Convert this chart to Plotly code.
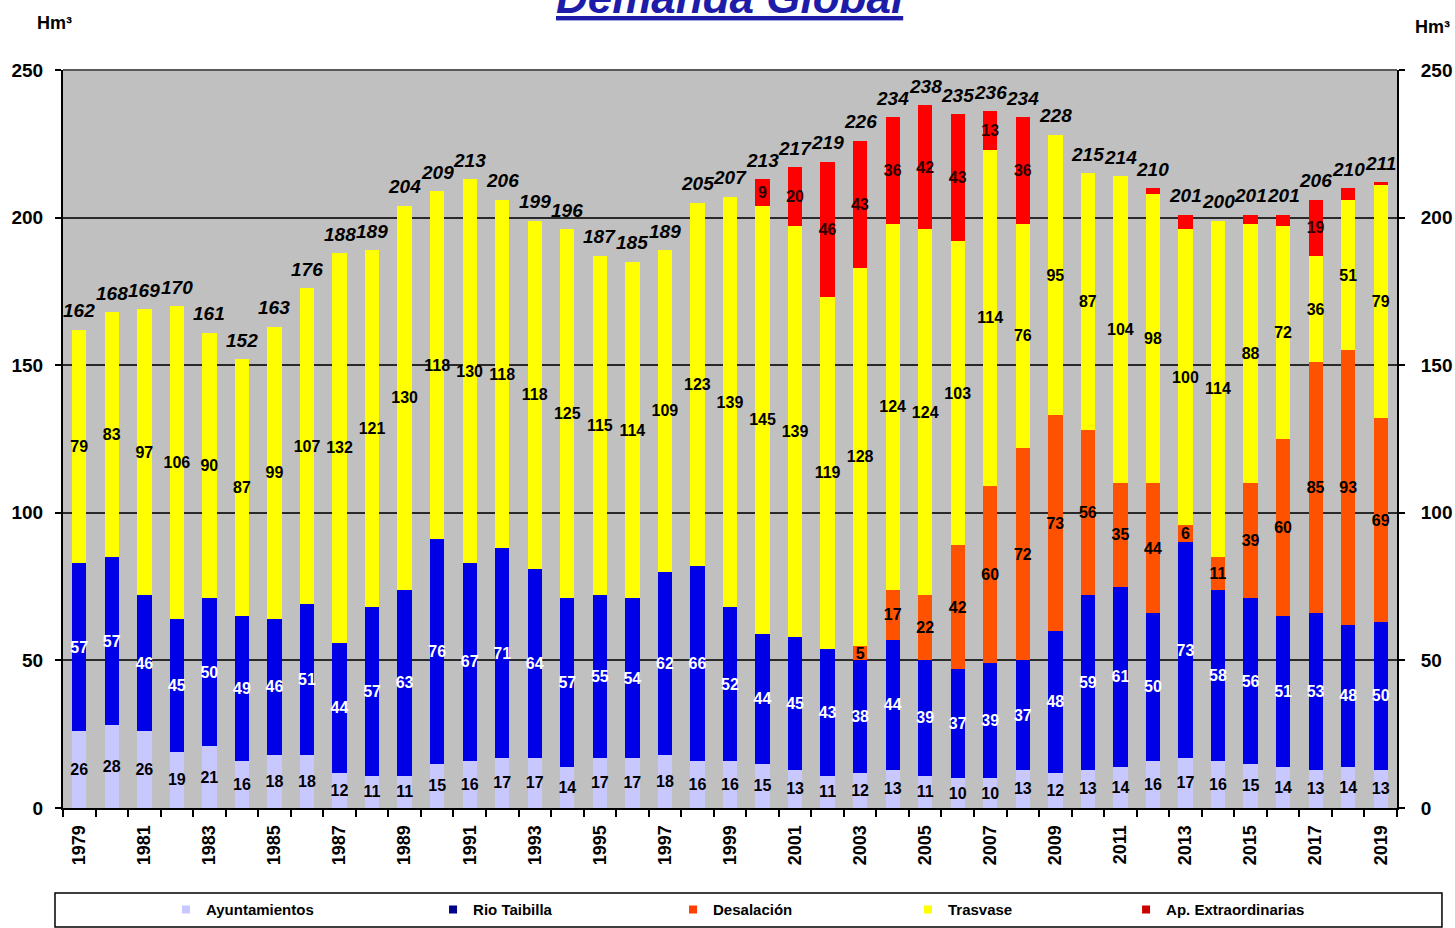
import plotly.graph_objects as go

anios = list(range(1979, 2020))
ayuntamientos = [26, 28, 26, 19, 21, 16, 18, 18, 12, 11, 11, 15, 16, 17, 17, 14, 17, 17, 18, 16, 16,
                 15, 13, 11, 12, 13, 11, 10, 10, 13, 12, 13, 14, 16, 17, 16, 15, 14, 13, 14, 13]
rio_taibilla = [57, 57, 46, 45, 50, 49, 46, 51, 44, 57, 63, 76, 67, 71, 64, 57, 55, 54, 62, 66, 52,
                44, 45, 43, 38, 44, 39, 37, 39, 37, 48, 59, 61, 50, 73, 58, 56, 51, 53, 48, 50]
desalacion = [0] * 24 + [5, 17, 22, 42, 60, 72, 73, 56, 35, 44, 6, 11, 39, 60, 85, 93, 69]
trasvase = [79, 83, 97, 106, 90, 87, 99, 107, 132, 121, 130, 118, 130, 118, 118, 125, 115, 114, 109, 123, 139,
            145, 139, 119, 128, 124, 124, 103, 114, 76, 95, 87, 104, 98, 100, 114, 88, 72, 36, 51, 79]
ap_extra = [0] * 21 + [9, 20, 46, 43, 36, 42, 43, 13, 36, 0, 0, 0, 2, 5, 0, 3, 4, 19, 4, 1]
totales = [162, 168, 169, 170, 161, 152, 163, 176, 188, 189, 204, 209, 213, 206, 199, 196, 187, 185, 189, 205, 207,
           213, 217, 219, 226, 234, 238, 235, 236, 234, 228, 215, 214, 210, 201, 200, 201, 201, 206, 210, 211]

series = [
    ("Ayuntamientos", ayuntamientos, "#c8c8ff", "#000000"),
    ("Rio Taibilla", rio_taibilla, "#0000e6", "#ffffff"),
    ("Desalación", desalacion, "#ff5200", "#000000"),
    ("Trasvase", trasvase, "#ffff00", "#000000"),
    ("Ap. Extraordinarias", ap_extra, "#ff0000", "#2a0000"),
]
legend_colors = ["#c8c8ff", "#00008b", "#ff4000", "#ffff00", "#cc0000"]

NARROW = "Liberation Sans Narrow, Arial Narrow, Liberation Sans, Arial, sans-serif"
SANS = "Liberation Sans, Arial, sans-serif"

fig = go.Figure()
for i, (name, vals, col, tcol) in enumerate(series):
    if name == "Ap. Extraordinarias":
        txt = [f"<b>{v}</b>" if v >= 9 else "" for v in vals]
    else:
        txt = [f"<b>{v}</b>" if v > 0 else "" for v in vals]
    fig.add_trace(go.Bar(
        x=anios, y=vals, name=name, marker=dict(color=col, line=dict(width=0)),
        text=txt, textposition="inside", insidetextanchor="middle", textangle=0,
        constraintext="none", textfont=dict(family=SANS, size=16, color=tcol),
        showlegend=False, hoverinfo="skip",
    ))

# legend entries (one legend per series, spread like the original)
leg_x = [0.0772, 0.2774, 0.4573, 0.6334, 0.7969]
for i, (name, vals, col, tcol) in enumerate(series):
    key = "legend" if i == 0 else f"legend{i+1}"
    fig.add_trace(go.Scatter(
        x=[None], y=[None], mode="markers", name=name,
        marker=dict(symbol="square", size=8, color=legend_colors[i]),
        legend=key, showlegend=True,
    ))
    fig.update_layout({key: dict(
        x=leg_x[i], y=-0.138, xanchor="left", yanchor="middle", orientation="h",
        bgcolor="rgba(0,0,0,0)", borderwidth=0,
        font=dict(family=NARROW, size=15, color="#000000", weight="bold"),
        itemwidth=30,
    )})

# total labels
stack_top = [a + b + c + d + e for a, b, c, d, e in zip(ayuntamientos, rio_taibilla, desalacion, trasvase, ap_extra)]
for x, y, t in zip(anios, stack_top, totales):
    fig.add_annotation(x=x, y=y, text=f"<b><i>{t}</i></b>", showarrow=False,
                       yshift=19, font=dict(family=SANS, size=19, color="#000000"))

fig.add_trace(go.Scatter(x=[1979], y=[0], yaxis="y2", mode="markers", marker=dict(opacity=0),
                         showlegend=False, hoverinfo="skip"))

tick_years = [y for y in anios if y % 2 == 1]
tickfont = dict(family=SANS, size=19, color="#000000", weight="bold")
fig.update_layout(
    width=1455, height=928,
    margin=dict(l=63, r=58, t=70, b=120, autoexpand=False),
    paper_bgcolor="#ffffff", plot_bgcolor="#c0c0c0",
    barmode="stack", bargap=0.56,
    xaxis=dict(range=[1978.5, 2019.5], tickmode="array", tickvals=tick_years,
               ticktext=[str(y) for y in tick_years], tickangle=-90, ticks="",
               tickfont=dict(family=SANS, size=18, color="#000000", weight="bold"),
               showline=True, linecolor="#000000", linewidth=2, showgrid=False, zeroline=False,
               ticklabelstandoff=8, automargin=False,
               minor=dict(tick0=1978.5, dtick=1, ticks="outside", ticklen=7, tickcolor="#000000",
                          tickwidth=1.5, showgrid=False)),
    yaxis=dict(range=[0, 250], tickvals=[0, 50, 100, 150, 200, 250], ticks="outside", ticklen=6,
               tickcolor="#000000", tickwidth=1.5, automargin=False,
               tickfont=tickfont, ticklabelstandoff=8,
               showline=True, linecolor="#000000", linewidth=2,
               showgrid=True, gridcolor="#2a2a2a", gridwidth=1.5, zeroline=False),
    yaxis2=dict(range=[0, 250], tickvals=[0, 50, 100, 150, 200, 250], overlaying="y", side="right",
                ticks="outside", ticklen=6, tickcolor="#000000", tickwidth=1.5, automargin=False,
                tickfont=tickfont, ticklabelstandoff=12,
                showline=True, linecolor="#000000", linewidth=2, showgrid=False, zeroline=False),
    showlegend=True,
)

# top frame line
fig.add_shape(type="line", xref="paper", yref="paper", x0=0, x1=1, y0=1, y1=1,
              line=dict(color="#5a5a5a", width=2))
# legend box
fig.add_shape(type="rect", xref="paper", yref="paper", x0=-0.006, x1=1.0337, y0=-0.1612, y1=-0.1152,
              line=dict(color="#000000", width=1.5), fillcolor="#ffffff", layer="below")

# title (partially cut at the top edge, as in the original)
fig.add_annotation(xref="paper", yref="paper", x=0.5, y=1.0623, xanchor="center", yanchor="bottom",
                   text="<b><i><u>Demanda Global</u></i></b>", showarrow=False,
                   font=dict(family=SANS, size=44, color="#1c1ca8"))
fig.add_annotation(xref="paper", yref="paper", x=-0.006, y=1.064, xanchor="center", yanchor="middle",
                   text="<b>Hm³</b>", showarrow=False, font=dict(family=NARROW, size=18, color="#000000"))
fig.add_annotation(xref="paper", yref="paper", x=1.0265, y=1.058, xanchor="center", yanchor="middle",
                   text="<b>Hm³</b>", showarrow=False, font=dict(family=NARROW, size=18, color="#000000"))

fig.write_html("out.html", config={"displayModeBar": False},
               post_script="document.body.style.margin='0';")
